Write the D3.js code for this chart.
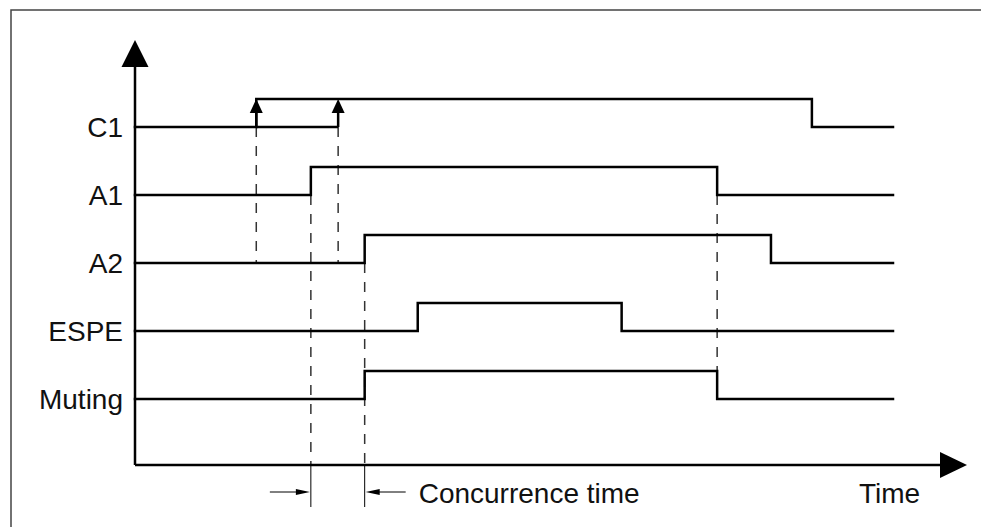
<!DOCTYPE html>
<html><head><meta charset="utf-8">
<script src="https://cdn.jsdelivr.net/npm/d3@7"></script>
<style>html,body{margin:0;padding:0;background:#fff;overflow:hidden}</style>
</head><body>
<svg id="c" width="981" height="527"></svg>
<script>
// ---- data ----
const signals = ["C1", "A1", "A2", "ESPE", "Muting"];
// step waveforms: [time, level]
const waveC1 = [[0,0],[16,1],[89.3,0],[100,0]];
const waveA1 = [[0,0],[23.2,1],[76.8,0],[100,0]];
const waveA2 = [[0,0],[30.3,1],[83.9,0],[100,0]];
const waveESPE = [[0,0],[37.3,1],[64.2,0],[100,0]];
const waveMuting = [[0,0],[30.3,1],[76.8,0],[100,0]];
const waves = [waveC1, waveA1, waveA2, waveESPE, waveMuting];
// C1 trigger arrows (time points)
const c1Triggers = [16, 26.8];
// dashed guides: [time, fromSignal, fromLevel, toSignal, toLevel]
const guides = [
  [16, "C1", 0, "A2", 0],
  [26.8, "C1", 0, "A2", 0],
  [23.2, "A1", 0, "axis", 0],
  [30.3, "A2", 0, "axis", 0],
  [76.8, "A1", 0, "Muting", 1]
];
const concurrence = [23.2, 30.3];
const concurrenceLabel = "Concurrence time";
const timeLabel = "Time";

// ---- layout ----
const svg = d3.select("#c");
const x = d3.scaleLinear().domain([0, 100]).range([135, 893]);
const y = d3.scalePoint().domain(signals).range([127, 399]);
const lvl = d3.scaleLinear().domain([0, 1]).range([0, -28]);
const axisY = 465, axisX = 135;
const yPos = (s, l) => s === "axis" ? axisY : y(s) + lvl(l);
const font = "'Liberation Sans', Arial, sans-serif";

// frame
svg.append("rect").attr("x", 11).attr("y", 10).attr("width", 1000).attr("height", 600)
  .attr("fill", "none").attr("stroke", "#444").attr("stroke-width", 1.5);

// dashed guides
svg.append("g").selectAll("line").data(guides).join("line")
  .attr("x1", d => x(d[0])).attr("x2", d => x(d[0]))
  .attr("y1", d => yPos(d[1], d[2])).attr("y2", d => yPos(d[3], d[4]))
  .attr("stroke", "#333").attr("stroke-width", 1.5).attr("stroke-dasharray", "10,9");

// axes
svg.append("line").attr("x1", axisX).attr("x2", axisX).attr("y1", axisY).attr("y2", 66)
  .attr("stroke", "#000").attr("stroke-width", 2.5);
svg.append("path").attr("d", `M${axisX},40 L${axisX-13.5},67 L${axisX+13.5},67 Z`).attr("fill", "#000");
svg.append("line").attr("x1", axisX).attr("x2", 941).attr("y1", axisY).attr("y2", axisY)
  .attr("stroke", "#000").attr("stroke-width", 2.5);
svg.append("path").attr("d", `M967,${axisY} L940,${axisY-13} L940,${axisY+13} Z`).attr("fill", "#000");

// waveforms
const stepLine = d3.line().curve(d3.curveStepAfter);
svg.append("g").selectAll("path").data(waves).join("path")
  .attr("d", (w, i) => stepLine(w.map(p => [x(p[0]), y(signals[i]) + lvl(p[1])])))
  .attr("fill", "none").attr("stroke", "#000").attr("stroke-width", 2.5)
  .attr("stroke-linejoin", "miter").attr("stroke-linecap", "square");

// C1 low continuation to last trigger
svg.append("line").attr("x1", x(c1Triggers[0])).attr("x2", x(c1Triggers[c1Triggers.length-1]))
  .attr("y1", y("C1")).attr("y2", y("C1")).attr("stroke", "#000").attr("stroke-width", 2.5);
// trigger arrows
const trig = svg.append("g").selectAll("g").data(c1Triggers).join("g");
trig.append("line").attr("x1", d => x(d)).attr("x2", d => x(d))
  .attr("y1", y("C1")).attr("y2", y("C1") + lvl(1) + 10).attr("stroke", "#000").attr("stroke-width", 2.5);
trig.append("path").attr("d", d => {
  const cx = x(d), ty = y("C1") + lvl(1);
  return `M${cx},${ty} L${cx-6.5},${ty+14} L${cx+6.5},${ty+14} Z`;
}).attr("fill", "#000");

// labels
svg.append("g").selectAll("text").data(signals).join("text")
  .attr("x", 123).attr("y", d => y(d) + 10)
  .attr("text-anchor", "end").attr("font-family", font).attr("font-size", 28)
  .attr("fill", "#111").text(d => d);

// concurrence markers
svg.append("g").selectAll("line").data(concurrence).join("line")
  .attr("x1", d => x(d)).attr("x2", d => x(d)).attr("y1", axisY).attr("y2", 507)
  .attr("stroke", "#000").attr("stroke-width", 1);
const ay = 492;
const c0 = x(concurrence[0]), c1 = x(concurrence[1]);
svg.append("line").attr("x1", c0 - 41).attr("x2", c0 - 8).attr("y1", ay).attr("y2", ay)
  .attr("stroke", "#000").attr("stroke-width", 1);
svg.append("path").attr("d", `M${c0-1},${ay} L${c0-15},${ay-3} L${c0-15},${ay+3} Z`).attr("fill", "#000");
svg.append("line").attr("x1", c1 + 8).attr("x2", c1 + 41).attr("y1", ay).attr("y2", ay)
  .attr("stroke", "#000").attr("stroke-width", 1);
svg.append("path").attr("d", `M${c1+1},${ay} L${c1+15},${ay-3} L${c1+15},${ay+3} Z`).attr("fill", "#000");

svg.append("text").attr("x", c1 + 54).attr("y", 503).attr("font-family", font).attr("font-size", 28)
  .attr("fill", "#111").text(concurrenceLabel);
svg.append("text").attr("x", 859).attr("y", 503).attr("font-family", font).attr("font-size", 28)
  .attr("fill", "#111").text(timeLabel);
</script>
</body></html>
